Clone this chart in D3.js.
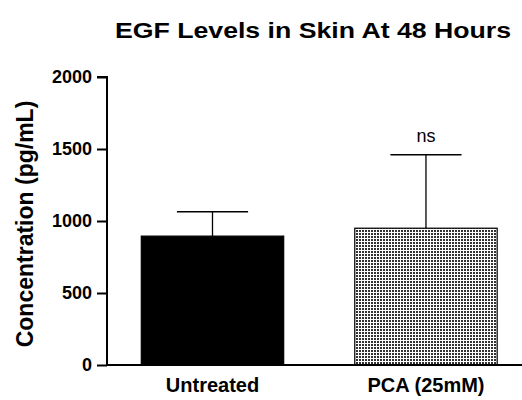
<!DOCTYPE html>
<html>
<head>
<meta charset="utf-8">
<script src="https://cdn.jsdelivr.net/npm/d3@7"></script>
<style>
  body { margin: 0; background: #fff; }
  text { font-family: "Liberation Sans", Arial, sans-serif; font-weight: bold; }
</style>
</head>
<body>
<svg id="chart" width="522" height="400"></svg>
<script>
// chart data
var categories = ["Untreated", "PCA (25mM)"];
var means = [895, 950];
var errUpper = [1065, 1460];
var annotations = ["", "ns"];
var yTicks = [0, 500, 1000, 1500, 2000];

var svg = d3.select("#chart");
var margin = {left: 107, right: 0, top: 77, bottom: 35};
var width = 522 - margin.left - margin.right;
var height = 400 - margin.top - margin.bottom;

// dotted fill for second bar
var defs = svg.append("defs");
var pat = defs.append("pattern")
	.attr("id", "dots")
	.attr("width", 3).attr("height", 3)
	.attr("patternUnits", "userSpaceOnUse");
pat.append("rect").attr("width", 3).attr("height", 3).attr("fill", "#fff");
pat.append("rect").attr("width", 2).attr("height", 2).attr("fill", "#333");

var g = svg.append("g").attr("transform", "translate(" + margin.left + "," + margin.top + ")");

var x = d3.scaleBand().domain(categories).range([0, width])
	.paddingInner(0.333).paddingOuter(0.1385).align(0.58);
var y = d3.scaleLinear().domain([0, 2000]).range([height, 0]);

// bars
g.selectAll(".bar").data(categories).enter().append("rect")
	.attr("x", function(d) { return x(d); })
	.attr("y", function(d, i) { return y(means[i]); })
	.attr("width", x.bandwidth())
	.attr("height", function(d, i) { return height - y(means[i]); })
	.attr("fill", function(d, i) { return i === 0 ? "#000" : "url(#dots)"; })
	.attr("stroke", "#000")
	.attr("stroke-width", 1.2);

// error bars (upper only)
var err = g.selectAll(".err").data(categories).enter().append("g");
err.append("line")
	.attr("x1", function(d) { return x(d) + x.bandwidth() / 2; })
	.attr("x2", function(d) { return x(d) + x.bandwidth() / 2; })
	.attr("y1", function(d, i) { return y(means[i]); })
	.attr("y2", function(d, i) { return y(errUpper[i]); })
	.attr("stroke", "#000").attr("stroke-width", 1.3);
err.append("line")
	.attr("x1", function(d) { return x(d) + x.bandwidth() / 4; })
	.attr("x2", function(d) { return x(d) + x.bandwidth() * 3 / 4; })
	.attr("y1", function(d, i) { return y(errUpper[i]); })
	.attr("y2", function(d, i) { return y(errUpper[i]); })
	.attr("stroke", "#000").attr("stroke-width", 1.5);
err.append("text")
	.attr("x", function(d) { return x(d) + x.bandwidth() / 2; })
	.attr("y", function(d, i) { return y(errUpper[i]) - 13; })
	.attr("text-anchor", "middle")
	.style("font-weight", "normal")
	.style("font-size", "18px")
	.text(function(d, i) { return annotations[i]; });

// axes
var yAxis = g.append("g")
	.call(d3.axisLeft(y).tickValues(yTicks).tickSize(10).tickPadding(5).tickFormat(d3.format("d")));
var xAxis = g.append("g")
	.attr("transform", "translate(0," + height + ")")
	.call(d3.axisBottom(x).tickSize(0).tickPadding(13));
[yAxis, xAxis].forEach(function(a) {
	a.select(".domain").attr("stroke", "#000").attr("stroke-width", 2);
	a.selectAll(".tick line").attr("stroke", "#000").attr("stroke-width", 2);
	a.selectAll("text").attr("fill", "#000").style("font-family", "Liberation Sans, Arial, sans-serif").style("font-weight", "bold");
});
yAxis.selectAll("text").style("font-size", "18px");
xAxis.selectAll("text").style("font-size", "20px");
xAxis.select(".domain").attr("d", "M0,0H" + width);
yAxis.select(".domain").attr("d", "M-10,0H0V" + height);

// title and axis label
svg.append("text")
	.attr("x", 115).attr("y", 38)
	.attr("textLength", 396)
	.attr("lengthAdjust", "spacingAndGlyphs")
	.style("font-size", "22px")
	.text("EGF Levels in Skin At 48 Hours");
svg.append("text")
	.attr("transform", "translate(33,224) rotate(-90)")
	.attr("text-anchor", "middle")
	.style("font-size", "23px")
	.text("Concentration (pg/mL)");
</script>
</body>
</html>
